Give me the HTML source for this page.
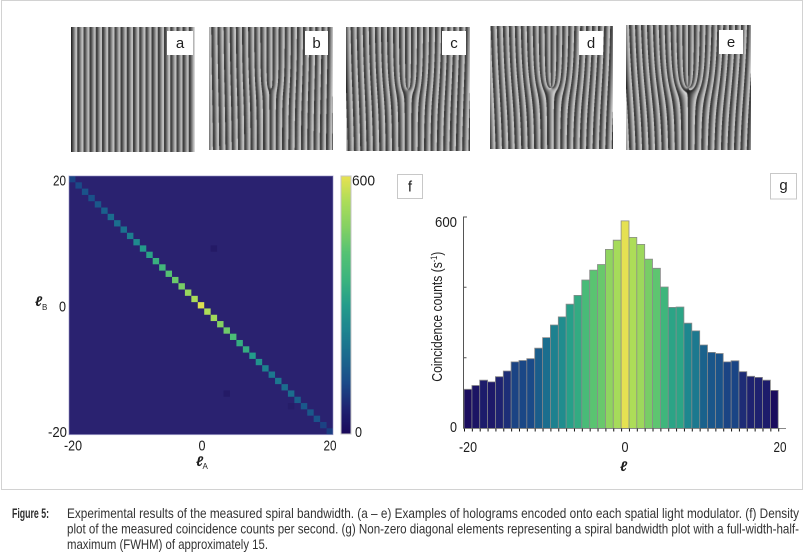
<!DOCTYPE html>
<html>
<head>
<meta charset="utf-8">
<style>
html,body{margin:0;padding:0;background:#fff;}
body{width:805px;height:555px;position:relative;overflow:hidden;}
svg{position:absolute;left:0;top:0;}
canvas.h{position:absolute;background:repeating-linear-gradient(90deg,#1e1e1e 0px,#dcdcdc 6.2px);}
.t{font-family:"Liberation Sans Narrow","Liberation Sans",Arial,sans-serif;fill:#1e1e1e;}
</style>
</head>
<body>
<svg width="805" height="555" viewBox="0 0 805 555">
<defs>
<filter id="vir" color-interpolation-filters="sRGB">
<feComponentTransfer>
<feFuncR type="table" tableValues="0.102 0.122 0.102 0.106 0.118 0.141 0.235 0.329 0.518 0.675 0.910"/>
<feFuncG type="table" tableValues="0.031 0.141 0.298 0.412 0.518 0.616 0.706 0.761 0.820 0.867 0.886"/>
<feFuncB type="table" tableValues="0.353 0.447 0.537 0.557 0.565 0.545 0.494 0.455 0.388 0.349 0.322"/>
</feComponentTransfer>
</filter>
<linearGradient id="cbg" x1="0" y1="1" x2="0" y2="0">
<stop offset="0" stop-color="#000"/>
<stop offset="1" stop-color="#fff"/>
</linearGradient>
</defs>

<!-- frame -->
<rect x="1.5" y="0.5" width="801" height="489" fill="none" stroke="#d2d2d2" stroke-width="1"/>

<!-- heatmap -->
<rect x="69" y="176" width="264" height="258.6" fill="#2a2270"/>
<g transform="translate(69,176) scale(6.439,6.307)">
<rect x="22" y="11" width="1" height="1" fill="#241a66"/>
<rect x="24" y="34" width="1" height="1" fill="#241a66"/>
<rect x="34" y="36" width="1" height="1" fill="#261d69"/>
<g filter="url(#vir)">
<rect x="0" y="0" width="1" height="1" fill="rgb(47,47,47)"/>
<rect x="1" y="1" width="1" height="1" fill="rgb(51,51,51)"/>
<rect x="2" y="2" width="1" height="1" fill="rgb(58,58,58)"/>
<rect x="3" y="3" width="1" height="1" fill="rgb(56,56,56)"/>
<rect x="4" y="4" width="1" height="1" fill="rgb(62,62,62)"/>
<rect x="5" y="5" width="1" height="1" fill="rgb(69,69,69)"/>
<rect x="6" y="6" width="1" height="1" fill="rgb(80,80,80)"/>
<rect x="7" y="7" width="1" height="1" fill="rgb(82,82,82)"/>
<rect x="8" y="8" width="1" height="1" fill="rgb(84,84,84)"/>
<rect x="9" y="9" width="1" height="1" fill="rgb(96,96,96)"/>
<rect x="10" y="10" width="1" height="1" fill="rgb(109,109,109)"/>
<rect x="11" y="11" width="1" height="1" fill="rgb(125,125,125)"/>
<rect x="12" y="12" width="1" height="1" fill="rgb(134,134,134)"/>
<rect x="13" y="13" width="1" height="1" fill="rgb(150,150,150)"/>
<rect x="14" y="14" width="1" height="1" fill="rgb(160,160,160)"/>
<rect x="15" y="15" width="1" height="1" fill="rgb(179,179,179)"/>
<rect x="16" y="16" width="1" height="1" fill="rgb(191,191,191)"/>
<rect x="17" y="17" width="1" height="1" fill="rgb(198,198,198)"/>
<rect x="18" y="18" width="1" height="1" fill="rgb(216,216,216)"/>
<rect x="19" y="19" width="1" height="1" fill="rgb(227,227,227)"/>
<rect x="20" y="20" width="1" height="1" fill="rgb(250,250,250)"/>
<rect x="21" y="21" width="1" height="1" fill="rgb(230,230,230)"/>
<rect x="22" y="22" width="1" height="1" fill="rgb(222,222,222)"/>
<rect x="23" y="23" width="1" height="1" fill="rgb(204,204,204)"/>
<rect x="24" y="24" width="1" height="1" fill="rgb(193,193,193)"/>
<rect x="25" y="25" width="1" height="1" fill="rgb(170,170,170)"/>
<rect x="26" y="26" width="1" height="1" fill="rgb(146,146,146)"/>
<rect x="27" y="27" width="1" height="1" fill="rgb(146,146,146)"/>
<rect x="28" y="28" width="1" height="1" fill="rgb(127,127,127)"/>
<rect x="29" y="29" width="1" height="1" fill="rgb(117,117,117)"/>
<rect x="30" y="30" width="1" height="1" fill="rgb(100,100,100)"/>
<rect x="31" y="31" width="1" height="1" fill="rgb(91,91,91)"/>
<rect x="32" y="32" width="1" height="1" fill="rgb(90,90,90)"/>
<rect x="33" y="33" width="1" height="1" fill="rgb(80,80,80)"/>
<rect x="34" y="34" width="1" height="1" fill="rgb(81,81,81)"/>
<rect x="35" y="35" width="1" height="1" fill="rgb(68,68,68)"/>
<rect x="36" y="36" width="1" height="1" fill="rgb(62,62,62)"/>
<rect x="37" y="37" width="1" height="1" fill="rgb(61,61,61)"/>
<rect x="38" y="38" width="1" height="1" fill="rgb(58,58,58)"/>
<rect x="39" y="39" width="1" height="1" fill="rgb(45,45,45)"/>
<rect x="40" y="40" width="1" height="1" fill="rgb(43,43,43)"/>
</g>
</g>
<rect x="69" y="176" width="264" height="258.6" fill="none" stroke="#8f8cc0" stroke-width="1" opacity="0.6"/>

<!-- colorbar -->
<rect x="341" y="176" width="10" height="258" fill="url(#cbg)" filter="url(#vir)"/>
<rect x="341" y="176" width="10" height="258" fill="none" stroke="#c4c4c4" stroke-width="1"/>

<!-- heatmap labels -->
<g class="t" font-size="15">
<text x="66" y="185.5" text-anchor="end" textLength="13" lengthAdjust="spacingAndGlyphs">20</text>
<text x="66" y="311.5" text-anchor="end" textLength="7" lengthAdjust="spacingAndGlyphs">0</text>
<text x="67" y="437" text-anchor="end" textLength="19" lengthAdjust="spacingAndGlyphs">-20</text>
<text x="64" y="450.5" textLength="18" lengthAdjust="spacingAndGlyphs">-20</text>
<text x="198.5" y="450.5" textLength="7" lengthAdjust="spacingAndGlyphs">0</text>
<text x="323.5" y="450.5" textLength="13" lengthAdjust="spacingAndGlyphs">20</text>
<text x="352" y="185.5" textLength="23" lengthAdjust="spacingAndGlyphs">600</text>
<text x="355" y="437" textLength="7" lengthAdjust="spacingAndGlyphs">0</text>
<text x="196" y="466" font-style="italic" font-size="14" font-weight="bold">ℓ</text>
<text x="202.5" y="469" font-size="8">A</text>
<text x="35" y="306" font-style="italic" font-size="14" font-weight="bold">ℓ</text>
<text x="42" y="310" font-size="8">B</text>
</g>

<!-- f / g boxes -->
<rect x="397.5" y="174.5" width="25" height="24" fill="#fff" stroke="#c8c8c8"/>
<text class="t" x="410" y="191.5" font-size="15" text-anchor="middle">f</text>
<rect x="770.5" y="173.5" width="26" height="25.5" fill="#fff" stroke="#c8c8c8"/>
<text class="t" x="783.5" y="190" font-size="15" text-anchor="middle">g</text>

<!-- bar chart fills -->
<g transform="translate(464,428) scale(7.855,-0.351667)" filter="url(#vir)">
<rect x="0" y="0" width="1" height="110" fill="rgb(5,5,5)"/>
<rect x="1" y="0" width="1" height="121" fill="rgb(11,11,11)"/>
<rect x="2" y="0" width="1" height="136" fill="rgb(19,19,19)"/>
<rect x="3" y="0" width="1" height="131" fill="rgb(16,16,16)"/>
<rect x="4" y="0" width="1" height="146" fill="rgb(24,24,24)"/>
<rect x="5" y="0" width="1" height="162" fill="rgb(32,32,32)"/>
<rect x="6" y="0" width="1" height="188" fill="rgb(46,46,46)"/>
<rect x="7" y="0" width="1" height="192" fill="rgb(48,48,48)"/>
<rect x="8" y="0" width="1" height="197" fill="rgb(50,50,50)"/>
<rect x="9" y="0" width="1" height="227" fill="rgb(66,66,66)"/>
<rect x="10" y="0" width="1" height="257" fill="rgb(82,82,82)"/>
<rect x="11" y="0" width="1" height="293" fill="rgb(100,100,100)"/>
<rect x="12" y="0" width="1" height="316" fill="rgb(112,112,112)"/>
<rect x="13" y="0" width="1" height="352" fill="rgb(131,131,131)"/>
<rect x="14" y="0" width="1" height="377" fill="rgb(144,144,144)"/>
<rect x="15" y="0" width="1" height="421" fill="rgb(167,167,167)"/>
<rect x="16" y="0" width="1" height="449" fill="rgb(182,182,182)"/>
<rect x="17" y="0" width="1" height="465" fill="rgb(190,190,190)"/>
<rect x="18" y="0" width="1" height="508" fill="rgb(212,212,212)"/>
<rect x="19" y="0" width="1" height="534" fill="rgb(226,226,226)"/>
<rect x="20" y="0" width="1" height="589" fill="rgb(254,254,254)"/>
<rect x="21" y="0" width="1" height="542" fill="rgb(230,230,230)"/>
<rect x="22" y="0" width="1" height="522" fill="rgb(220,220,220)"/>
<rect x="23" y="0" width="1" height="480" fill="rgb(198,198,198)"/>
<rect x="24" y="0" width="1" height="454" fill="rgb(184,184,184)"/>
<rect x="25" y="0" width="1" height="401" fill="rgb(157,157,157)"/>
<rect x="26" y="0" width="1" height="343" fill="rgb(136,136,136)"/>
<rect x="27" y="0" width="1" height="344" fill="rgb(137,137,137)"/>
<rect x="28" y="0" width="1" height="298" fill="rgb(105,105,105)"/>
<rect x="29" y="0" width="1" height="276" fill="rgb(92,92,92)"/>
<rect x="30" y="0" width="1" height="236" fill="rgb(71,71,71)"/>
<rect x="31" y="0" width="1" height="215" fill="rgb(60,60,60)"/>
<rect x="32" y="0" width="1" height="212" fill="rgb(58,58,58)"/>
<rect x="33" y="0" width="1" height="188" fill="rgb(46,46,46)"/>
<rect x="34" y="0" width="1" height="191" fill="rgb(47,47,47)"/>
<rect x="35" y="0" width="1" height="160" fill="rgb(31,31,31)"/>
<rect x="36" y="0" width="1" height="147" fill="rgb(24,24,24)"/>
<rect x="37" y="0" width="1" height="144" fill="rgb(23,23,23)"/>
<rect x="38" y="0" width="1" height="136" fill="rgb(19,19,19)"/>
<rect x="39" y="0" width="1" height="107" fill="rgb(4,4,4)"/>
</g>
<!-- bar outlines -->
<path fill="none" stroke="#8a8a8a" stroke-width="0.8" d="
M464.0 428V389.3H471.9V428 M471.9 428V385.5H479.7V428 M479.7 428V380.2H487.6V428 M487.6 428V381.9H495.4V428
M495.4 428V376.7H503.3V428 M503.3 428V371.0H511.1V428 M511.1 428V361.9H519.0V428 M519.0 428V360.5H526.8V428
M526.8 428V358.7H534.7V428 M534.7 428V348.2H542.6V428 M542.6 428V337.6H550.4V428 M550.4 428V325.0H558.3V428
M558.3 428V316.9H566.1V428 M566.1 428V304.2H574.0V428 M574.0 428V295.4H581.8V428 M581.8 428V280.0H589.7V428
M589.7 428V270.1H597.5V428 M597.5 428V264.5H605.4V428 M605.4 428V249.4H613.2V428 M613.2 428V240.2H621.1V428
M621.1 428V220.9H629.0V428 M629.0 428V237.4H636.8V428 M636.8 428V244.4H644.7V428 M644.7 428V259.2H652.5V428
M652.5 428V268.3H660.4V428 M660.4 428V287.0H668.2V428 M668.2 428V307.4H676.1V428 M676.1 428V307.0H683.9V428
M683.9 428V323.2H691.8V428 M691.8 428V330.9H699.7V428 M699.7 428V345.0H707.5V428 M707.5 428V352.4H715.4V428
M715.4 428V353.5H723.2V428 M723.2 428V361.9H731.1V428 M731.1 428V360.8H738.9V428 M738.9 428V371.7H746.8V428
M746.8 428V376.3H754.6V428 M754.6 428V377.4H762.5V428 M762.5 428V380.2H770.4V428 M770.4 428V390.4H778.2V428"/>

<!-- axes -->
<line x1="463.5" y1="216.5" x2="463.5" y2="428.5" stroke="#555" stroke-width="1"/>
<line x1="463" y1="428.5" x2="786" y2="428.5" stroke="#888" stroke-width="1"/>
<line x1="464" y1="430" x2="780" y2="430" stroke="#111" stroke-width="3" stroke-dasharray="1 6.855"/>
<path d="M463.5 217H467 M463.5 287.3H466.5 M463.5 357.7H466.5" stroke="#555" stroke-width="1"/>

<!-- bar chart labels -->
<g class="t" font-size="15">
<text x="457" y="227" text-anchor="end" textLength="22" lengthAdjust="spacingAndGlyphs">600</text>
<text x="457" y="432" text-anchor="end" textLength="7" lengthAdjust="spacingAndGlyphs">0</text>
<text x="459" y="452" textLength="18" lengthAdjust="spacingAndGlyphs">-20</text>
<text x="621.5" y="452" textLength="7" lengthAdjust="spacingAndGlyphs">0</text>
<text x="773.5" y="452" textLength="13" lengthAdjust="spacingAndGlyphs">20</text>
<text x="620" y="471" font-style="italic" font-size="14" font-weight="bold">ℓ</text>
<text transform="translate(442,316.7) rotate(-90)" text-anchor="middle" textLength="130" lengthAdjust="spacingAndGlyphs">Coincidence counts (s<tspan font-size="9" dy="-5">-1</tspan><tspan dy="5">)</tspan></text>
</g>

<!-- caption -->
<g font-family="'Liberation Sans Narrow','Liberation Sans',Arial,sans-serif" font-size="14">
<text x="12" y="518" font-weight="bold" fill="#2e2e2e" textLength="37" lengthAdjust="spacingAndGlyphs">Figure 5:</text>
<text x="67" y="518" fill="#333" textLength="732" lengthAdjust="spacingAndGlyphs">Experimental results of the measured spiral bandwidth. (a – e) Examples of holograms encoded onto each spatial light modulator. (f) Density</text>
<text x="67" y="533.5" fill="#333" textLength="732" lengthAdjust="spacingAndGlyphs">plot of the measured coincidence counts per second. (g) Non-zero diagonal elements representing a spiral bandwidth plot with a full-width-half-</text>
<text x="67" y="549" fill="#333" textLength="201" lengthAdjust="spacingAndGlyphs">maximum (FWHM) of approximately 15.</text>
</g>
</svg>

<canvas class="h" id="ha" width="124" height="125" style="left:71px;top:27px;width:124px;height:125px"></canvas>
<canvas class="h" id="hb" width="124" height="123" style="left:209px;top:27px;width:124px;height:123px"></canvas>
<canvas class="h" id="hc" width="124" height="124" style="left:346px;top:27px;width:124px;height:124px"></canvas>
<canvas class="h" id="hd" width="123" height="123" style="left:490px;top:26px;width:123px;height:123px"></canvas>
<canvas class="h" id="he" width="125" height="125" style="left:626px;top:25px;width:125px;height:125px"></canvas>

<svg width="805" height="555" viewBox="0 0 805 555" style="pointer-events:none">
<g class="t" font-size="15" text-anchor="middle">
<rect x="167" y="31" width="26" height="24" fill="#fff"/><text x="180" y="48">a</text>
<rect x="305" y="31" width="23" height="24" fill="#fff"/><text x="316.5" y="48">b</text>
<rect x="442" y="31" width="24" height="24" fill="#fff"/><text x="454" y="48">c</text>
<rect x="579" y="31" width="24" height="24" fill="#fff"/><text x="591" y="48">d</text>
<rect x="719" y="30" width="24" height="24" fill="#fff"/><text x="731" y="47">e</text>
</g>
</svg>

<script>
(function(){
  var specs=[['ha',0],['hb',1],['hc',2],['hd',3],['he',4]];
  var S=4;
  for(var s=0;s<specs.length;s++){
    var c=document.getElementById(specs[s][0]); var l=specs[s][1];
    if(!c||!c.getContext) continue;
    var ctx=c.getContext('2d'); var w=c.width,h=c.height;
    var im=ctx.createImageData(w,h); var d=im.data;
    var cx=w/2, cy=h/2, L=6.2;
    for(var y=0;y<h;y++){
      for(var x=0;x<w;x++){
        var acc=0;
        for(var sy=0;sy<S;sy++){
          for(var sx=0;sx<S;sx++){
            var xx=x+(sx+0.5)/S, yy=y+(sy+0.5)/S;
            var px=xx-cx, py=yy-cy;
            var ph=xx/L + l*Math.atan2(py,px)/(2*Math.PI);
            var f=ph-Math.floor(ph);
            acc+=f;
          }
        }
        var fm=acc/(S*S);
        var g=Math.round(20+215*fm);
        var i=(y*w+x)*4;
        d[i]=g; d[i+1]=g; d[i+2]=g; d[i+3]=255;
      }
    }
    ctx.putImageData(im,0,0);
  }
})();
</script>
</body>
</html>
